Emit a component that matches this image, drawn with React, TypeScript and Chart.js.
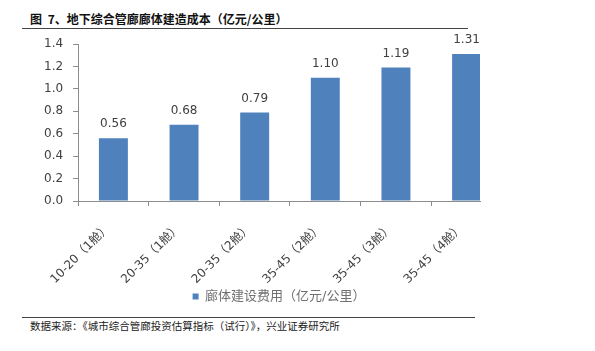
import React, { useEffect, useRef } from "react";
import { Chart, registerables } from "chart.js";

Chart.register(...registerables);

const titleText = "图 7、地下综合管廊廊体建造成本（亿元/公里）";
const sourceText = "数据来源：《城市综合管廊投资估算指标（试行）》，兴业证券研究所";
const seriesLabel = "廊体建设费用（亿元/公里）";
const categories = ["10-20（1舱）", "20-35（1舱）", "20-35（2舱）", "35-45（2舱）", "35-45（3舱）", "35-45（4舱）"];
const costs = [0.56, 0.68, 0.79, 1.1, 1.19, 1.31];
const yTickValues = [0, 0.2, 0.4, 0.6, 0.8, 1.0, 1.2, 1.4];

const FONT = '"DejaVu Sans", "Noto Sans CJK SC", sans-serif';
const BAR = "#4F81BD";
const AXIS = "#8c8c8c";

const valueLabels = {
  id: "valueLabels",
  afterDatasetsDraw(chart: any) {
    const ctx = chart.ctx;
    const meta = chart.getDatasetMeta(0);
    ctx.save();
    ctx.font = `12px ${FONT}`;
    ctx.fillStyle = "#404040";
    ctx.textAlign = "center";
    ctx.textBaseline = "middle";
    meta.data.forEach((el: any, i: number) => {
      ctx.fillText(costs[i].toFixed(2), el.x, el.y - 14);
    });
    ctx.restore();
  },
};

export default function App() {
  const ref = useRef<HTMLCanvasElement | null>(null);
  useEffect(() => {
    if (!ref.current) return;
    const chart = new Chart(ref.current, {
      type: "bar",
      data: {
        datasets: [
          {
            label: seriesLabel,
            data: costs.map((v, i) => ({ x: i, y: v })),
            backgroundColor: BAR,
            borderWidth: 0,
            barPercentage: 1,
            categoryPercentage: 0.41,
          },
        ],
      },
      options: {
        animation: false,
        responsive: false,
        maintainAspectRatio: false,
        layout: { padding: { left: 34, right: 115, top: 44, bottom: 0 } },
        plugins: {
          tooltip: { enabled: false },
          legend: {
            position: "bottom",
            fullSize: false,
            labels: {
              boxWidth: 6,
              boxHeight: 6,
              color: "#707070",
              font: { size: 13, family: FONT },
              padding: 4,
            },
          },
        },
        scales: {
          x: {
            type: "linear",
            offset: false,
            min: -0.5,
            max: 5.19,
            afterBuildTicks: (s: any) => {
              s.ticks = categories.map((_, i) => ({ value: i }));
            },
            afterFit: (s: any) => {
              s.paddingLeft = 0;
              s.paddingRight = 0;
              s.height = 85;
            },
            ticks: {
              autoSkip: false,
              minRotation: 45,
              maxRotation: 45,
              padding: 15,
              labelOffset: -5,
              color: "#404040",
              font: { size: 12, family: FONT },
              callback: (_v: any, i: number) => categories[i],
            },
            grid: {
              offset: true,
              drawOnChartArea: false,
              drawTicks: true,
              tickLength: 5,
              color: AXIS,
            },
            border: { color: AXIS },
          },
          y: {
            min: 0,
            max: 1.4,
            afterBuildTicks: (s: any) => {
              s.ticks = yTickValues.map((v) => ({ value: v }));
            },
            ticks: {
              padding: 10,
              color: "#404040",
              font: { size: 12, family: FONT },
              callback: (v: any) => Number(v).toFixed(1),
            },
            grid: {
              drawOnChartArea: false,
              drawTicks: true,
              tickLength: 5,
              color: AXIS,
            },
            border: { color: AXIS },
          },
        },
      },
      plugins: [valueLabels],
    } as any);
    return () => chart.destroy();
  }, []);

  return (
    <div
      style={{
        position: "absolute",
        left: 0,
        top: 0,
        width: 595,
        height: 351,
        background: "#fff",
        overflow: "hidden",
      }}
    >
      <div
        style={{
          position: "absolute",
          left: 30,
          top: 11,
          fontFamily: '"Noto Sans CJK SC", sans-serif',
          fontWeight: 700,
          fontSize: 12,
          lineHeight: "16px",
          color: "#111",
          whiteSpace: "pre",
          wordSpacing: 3,
        }}
      >
        {titleText}
      </div>
      <div style={{ position: "absolute", left: 22, top: 28, width: 446, height: 1, background: "#444" }} />
      <canvas ref={ref} width={595} height={313} style={{ position: "absolute", left: 0, top: 0 }} />
      <div style={{ position: "absolute", left: 22, top: 317, width: 453, height: 1, background: "#444" }} />
      <div
        style={{
          position: "absolute",
          left: 30,
          top: 318,
          fontFamily: '"Noto Sans CJK SC", sans-serif',
          fontSize: 10.5,
          lineHeight: "15px",
          color: "#222",
          whiteSpace: "nowrap",
        }}
      >
        {sourceText}
      </div>
    </div>
  );
}
